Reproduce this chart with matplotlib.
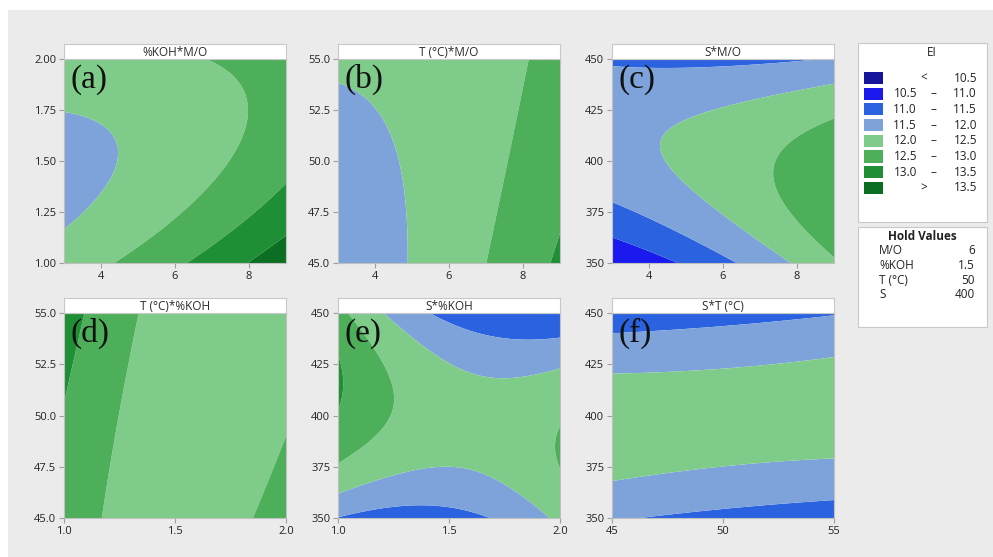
import numpy as np
import matplotlib
matplotlib.use('Agg')
import matplotlib.pyplot as plt
from matplotlib.patches import Rectangle

plt.rcParams['font.family'] = ['Open Sans', 'DejaVu Sans']

# EI bands used by the contour plots
levels = [0, 10.5, 11.0, 11.5, 12.0, 12.5, 13.0, 13.5, 30]
band_colors = ['#15159C', '#1A1AEE', '#2A62DF', '#7DA3DA', '#7ECB8A', '#4DAF5A', '#1F8F36', '#0B6E22']
band_lo = ['', '10.5', '11.0', '11.5', '12.0', '12.5', '13.0', '']
band_hi = ['10.5', '11.0', '11.5', '12.0', '12.5', '13.0', '13.5', '13.5']

# panels
titles = ['%KOH*M/O', 'T (°C)*M/O', 'S*M/O', 'T (°C)*%KOH', 'S*%KOH', 'S*T (°C)']
tags = ['(a)', '(b)', '(c)', '(d)', '(e)', '(f)']
x_lims = [(3, 9), (3, 9), (3, 9), (1, 2), (1, 2), (45, 55)]
y_lims = [(1, 2), (45, 55), (350, 450), (45, 55), (350, 450), (350, 450)]
x_ticks = [[4, 6, 8], [4, 6, 8], [4, 6, 8], [1.0, 1.5, 2.0], [1.0, 1.5, 2.0], [45, 50, 55]]
x_ticklabels = [['4', '6', '8'], ['4', '6', '8'], ['4', '6', '8'],
                ['1.0', '1.5', '2.0'], ['1.0', '1.5', '2.0'], ['45', '50', '55']]
y_ticks = [[1.0, 1.25, 1.5, 1.75, 2.0], [45, 47.5, 50, 52.5, 55], [350, 375, 400, 425, 450],
           [45, 47.5, 50, 52.5, 55], [350, 375, 400, 425, 450], [350, 375, 400, 425, 450]]
y_ticklabels = [['1.00', '1.25', '1.50', '1.75', '2.00'],
                ['45.0', '47.5', '50.0', '52.5', '55.0'],
                ['350', '375', '400', '425', '450'],
                ['45.0', '47.5', '50.0', '52.5', '55.0'],
                ['350', '375', '400', '425', '450'],
                ['350', '375', '400', '425', '450']]

# fitted quadratic surface for each panel, coded units (-1..1 over the axis range)
# [b0, b_x, b_y, b_xx, b_yy, b_xy]
coef_a = [12.225, 0.50, -0.235, 0.13, 0.45, -0.32]
coef_b = [12.20, 0.50, -0.01, 0.125, 0.037, -0.21]
coef_c = [12.24, 0.508, 0.0, 0.09, -0.86, -0.454]
coef_d = [12.25, -0.26, 0.0, 0.46, 0.037, -0.24]
coef_e = [12.23, -0.26, 0.01, 0.48, -0.90, -0.575]
coef_f = [12.20, -0.01, -0.035, 0.02, -0.88, 0.169]
coefs = [coef_a, coef_b, coef_c, coef_d, coef_e, coef_f]

hold_names = ['M/O', '%KOH', 'T (°C)', 'S']
hold_values = ['6', '1.5', '50', '400']

W, H = 993, 557


def box(x0, y0, x1, y1):
    # pixel box (top-left origin) -> figure fraction
    return [x0 / W, 1 - y1 / H, (x1 - x0) / W, (y1 - y0) / H]


def fx(x):
    return x / W


def fy(y):
    return 1 - y / H


fig = plt.figure(figsize=(W / 100, H / 100), dpi=100, facecolor='white')
# grey canvas behind everything (a thin white margin at top/left)
fig.add_artist(Rectangle((fx(8), 0), 1 - fx(8), fy(10), transform=fig.transFigure,
                         facecolor='#EBEBEB', edgecolor='none', zorder=-10))

cols = [(64, 286), (338, 560), (612, 834)]
rows = [(59, 263), (313, 518)]

for i in range(6):
    x0, x1 = cols[i % 3]
    y0, y1 = rows[i // 3]
    ax = fig.add_axes(box(x0, y0, x1, y1))

    b = coefs[i]
    u = np.linspace(-1, 1, 300)
    U, V = np.meshgrid(u, u)
    Z = b[0] + b[1] * U + b[2] * V + b[3] * U ** 2 + b[4] * V ** 2 + b[5] * U * V
    xa, xb = x_lims[i]
    ya, yb = y_lims[i]
    X = (xa + xb) / 2 + U * (xb - xa) / 2
    Y = (ya + yb) / 2 + V * (yb - ya) / 2
    ax.contourf(X, Y, Z, levels=levels, colors=band_colors, antialiased=True)

    ax.set_xlim(xa, xb)
    ax.set_ylim(ya, yb)
    ax.set_xticks(x_ticks[i])
    ax.set_xticklabels(x_ticklabels[i])
    ax.set_yticks(y_ticks[i])
    ax.set_yticklabels(y_ticklabels[i])
    ax.tick_params(direction='out', length=3.5, width=0.8, color='#a0a0a0',
                   labelsize=8, labelcolor='#222222', pad=2)
    for s in ax.spines.values():
        s.set_color('#c0c0c0')
        s.set_linewidth(0.8)

    ax.text(6 / (x1 - x0), 1 - 5 / (y1 - y0), tags[i], transform=ax.transAxes,
            fontsize=24, family='Liberation Serif', va='top', ha='left', color='#111111')

    # title strip
    hdr = fig.add_axes(box(x0, y0 - 15, x1, y0))
    hdr.set_facecolor('white')
    hdr.set_xticks([])
    hdr.set_yticks([])
    for s in hdr.spines.values():
        s.set_color('#c8c8c8')
        s.set_linewidth(0.8)
    hdr.text(0.5, 0.45, titles[i], ha='center', va='center', fontsize=8.5, color='#2a2a2a')

# EI legend box
fig.add_artist(Rectangle((fx(858), fy(222)), 129 / W, 179 / H, transform=fig.transFigure,
                         facecolor='white', edgecolor='#c8c8c8', lw=0.8))
fig.text(fx(932), fy(53), 'EI', ha='center', va='center', fontsize=8.5, color='#222222')
for k in range(8):
    yc = 78 + k * 15.7
    fig.add_artist(Rectangle((fx(864), fy(yc + 6)), 19 / W, 12 / H, transform=fig.transFigure,
                             facecolor=band_colors[k], edgecolor='none'))
    if k == 0:
        fig.text(fx(924), fy(yc), '<', ha='center', va='center', fontsize=8.5, color='#222222')
    elif k == 7:
        fig.text(fx(924), fy(yc), '>', ha='center', va='center', fontsize=8.5, color='#222222')
    else:
        fig.text(fx(917), fy(yc), band_lo[k], ha='right', va='center', fontsize=8.5, color='#222222')
        fig.text(fx(933), fy(yc), '–', ha='center', va='center', fontsize=8.5, color='#222222')
    fig.text(fx(977), fy(yc), band_hi[k], ha='right', va='center', fontsize=8.5, color='#222222')

# hold values box
fig.add_artist(Rectangle((fx(858), fy(327)), 129 / W, 100 / H, transform=fig.transFigure,
                         facecolor='white', edgecolor='#c8c8c8', lw=0.8))
fig.text(fx(922), fy(236), 'Hold Values', ha='center', va='center', fontsize=8.5,
         fontweight='bold', color='#222222')
for k in range(4):
    yc = 251 + k * 14.5
    fig.text(fx(879), fy(yc), hold_names[k], ha='left', va='center', fontsize=8.5, color='#222222')
    fig.text(fx(975), fy(yc), hold_values[k], ha='right', va='center', fontsize=8.5, color='#222222')

fig.savefig('out.png', dpi=100, facecolor=fig.get_facecolor())
